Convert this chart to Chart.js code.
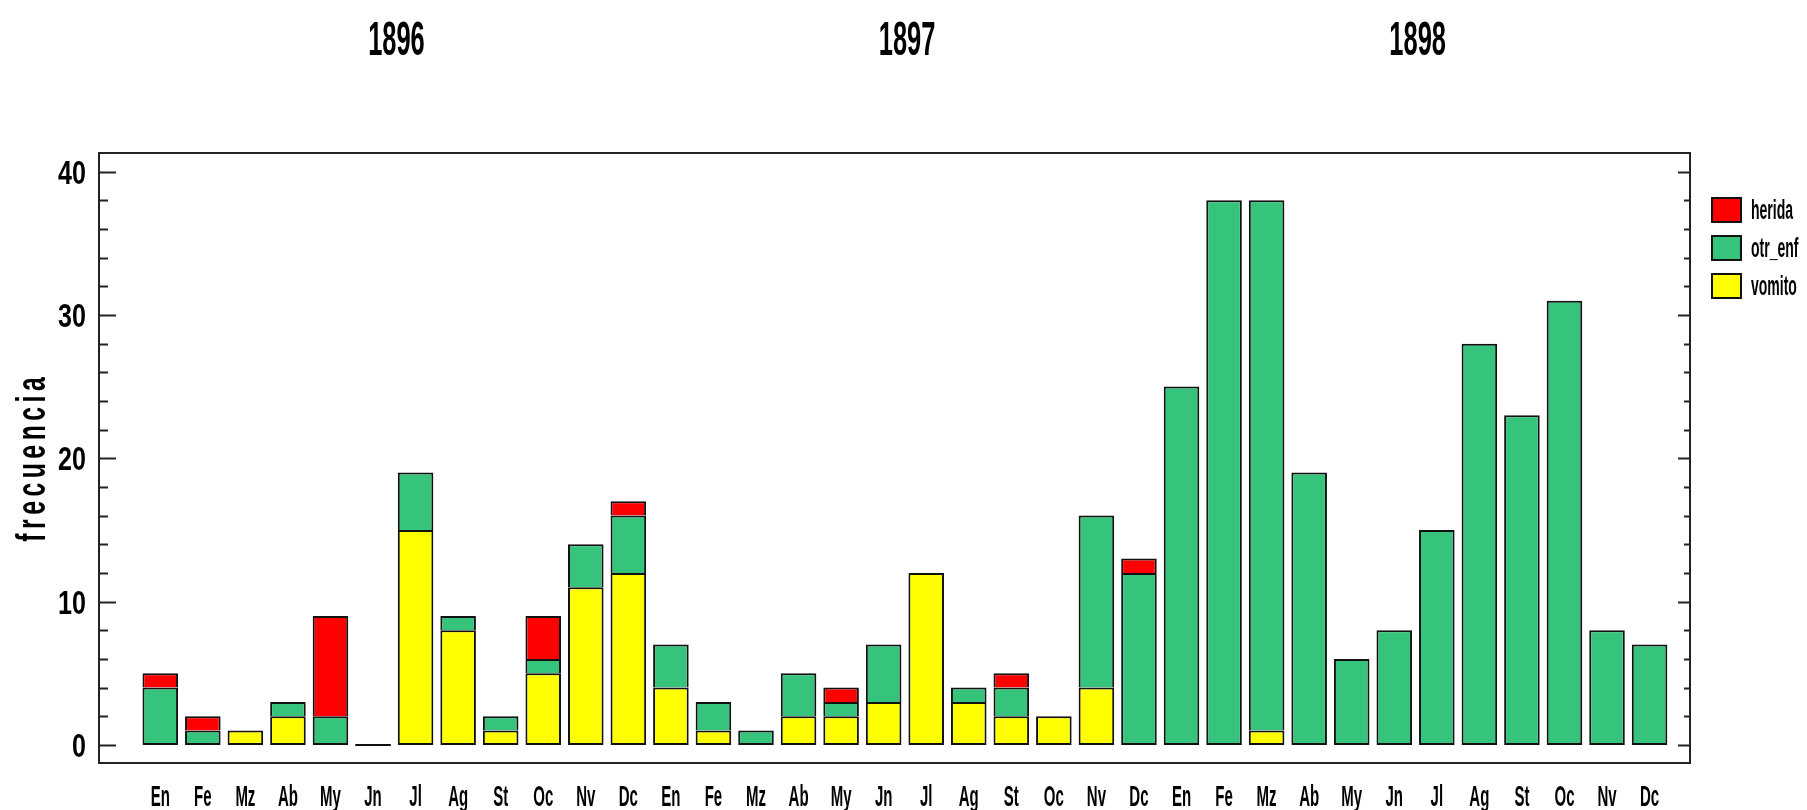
<!DOCTYPE html>
<html>
<head>
<meta charset="utf-8">
<script src="https://cdn.jsdelivr.net/npm/chart.js@4.4.1/dist/chart.umd.min.js"></script>
<style>
    html, body { margin: 0; padding: 0; background: #fff; }
</style>
</head>
<body>
<canvas id="grafico" width="1807" height="810"></canvas>
<script>
// Meses y años (tres años seguidos)
const meses = ['En', 'Fe', 'Mz', 'Ab', 'My', 'Jn', 'Jl', 'Ag', 'St', 'Oc', 'Nv', 'Dc'];
const anios = ['1896', '1897', '1898'];
const etiquetas = anios.flatMap(() => meses);

// Frecuencias por mes
const vomito = [0, 0, 1, 2, 0, 0, 15, 8, 1, 5, 11, 12,
                4, 1, 0, 2, 2, 3, 12, 3, 2, 2, 4, 0,
                0, 0, 1, 0, 0, 0, 0, 0, 0, 0, 0, 0];
const otrEnf = [4, 1, 0, 1, 2, 0, 4, 1, 1, 1, 3, 4,
                3, 2, 1, 3, 1, 4, 0, 1, 2, 0, 12, 12,
                25, 38, 37, 19, 6, 8, 15, 28, 23, 31, 8, 7];
const herida = [1, 1, 0, 0, 7, 0, 0, 0, 0, 3, 0, 1,
                0, 0, 0, 0, 1, 0, 0, 0, 1, 0, 0, 1,
                0, 0, 0, 0, 0, 0, 0, 0, 0, 0, 0, 0];

const yTicks = [0, 10, 20, 30, 40];

const FUENTE = '"Liberation Sans", Arial, sans-serif';

const pila = [vomito, otrEnf, herida];
const puntos = arr => arr.map((v, i) => ({ x: i, y: v }));

// texto estrechado horizontalmente
function textoEstrecho(ctx, txt, x, y, size, sx, align) {
    ctx.save();
    ctx.translate(x, y);
    ctx.scale(sx, 1);
    ctx.font = 'bold ' + size + 'px ' + FUENTE;
    ctx.textAlign = align || 'center';
    ctx.textBaseline = 'alphabetic';
    ctx.fillStyle = '#000';
    ctx.fillText(txt, 0, 0);
    ctx.restore();
}

// borde inferior solo en el primer tramo visible de la pila
function bordeTramo(c) {
    const i = c.dataIndex;
    let debajo = 0;
    for (let k = 0; k < c.datasetIndex; k++) debajo += pila[k][i];
    return { top: 2, left: 2, right: 2, bottom: debajo === 0 ? 2 : 0 };
}

const decorado = {
    id: 'decorado',
    afterDraw(chart) {
        const ctx = chart.ctx;
        const area = chart.chartArea;
        const xs = chart.scales.x;
        const ys = chart.scales.y;

        // meses sin casos: linea en cero
        const meta = chart.getDatasetMeta(0);
        ctx.save();
        ctx.strokeStyle = '#111';
        ctx.lineWidth = 2;
        etiquetas.forEach((m, i) => {
            if (vomito[i] + otrEnf[i] + herida[i] === 0) {
                const bar = meta.data[i];
                const y0 = ys.getPixelForValue(0);
                ctx.beginPath();
                ctx.moveTo(bar.x - bar.width / 2, y0);
                ctx.lineTo(bar.x + bar.width / 2, y0);
                ctx.stroke();
            }
        });
        ctx.restore();

        // marco
        ctx.save();
        ctx.strokeStyle = '#222';
        ctx.lineWidth = 2;
        ctx.strokeRect(area.left, area.top, area.right - area.left, area.bottom - area.top);

        // marcas del eje y (hacia dentro)
        ctx.beginPath();
        for (let v = 0; v <= 40; v += 2) {
            const y = Math.round(ys.getPixelForValue(v)) + 0.5;
            const mayor = v % 10 === 0;
            ctx.moveTo(area.left, y);
            ctx.lineTo(area.left + (mayor ? 17 : 9), y);
            ctx.moveTo(area.right, y);
            ctx.lineTo(area.right - (mayor ? 12 : 6), y);
        }
        ctx.stroke();
        ctx.restore();

        // etiquetas del eje y
        yTicks.forEach(v => {
            textoEstrecho(ctx, String(v), area.left - 13, ys.getPixelForValue(v) + 12, 33, 0.76, 'right');
        });

        // etiquetas de meses
        etiquetas.forEach((m, i) => {
            textoEstrecho(ctx, m, xs.getPixelForValue(i), 806, 30, 0.5);
        });

        // años
        anios.forEach((a, k) => {
            textoEstrecho(ctx, a, xs.getPixelForValue(k * 12 + 5.55), 55, 48, 0.53);
        });

        // titulo eje y, letras espaciadas
        const titulo = 'frecuencia';
        ctx.save();
        ctx.font = 'bold 40px ' + FUENTE;
        ctx.fillStyle = '#000';
        ctx.textBaseline = 'alphabetic';
        ctx.textAlign = 'left';
        const sx = 0.62, hueco = 4.5;
        const anchos = titulo.split('').map(ch => ctx.measureText(ch).width * sx);
        const total = anchos.reduce((a, b) => a + b, 0) + hueco * (titulo.length - 1);
        ctx.translate(45, 459.5);
        ctx.rotate(-Math.PI / 2);
        let pos = -total / 2;
        titulo.split('').forEach((ch, k) => {
            ctx.save();
            ctx.translate(pos, 0);
            ctx.scale(sx, 1);
            ctx.fillText(ch, 0, 0);
            ctx.restore();
            pos += anchos[k] + hueco;
        });
        ctx.restore();

        // leyenda (orden inverso a la pila)
        const series = chart.data.datasets.slice().reverse();
        series.forEach((ds, k) => {
            const top = 198 + k * 38;
            ctx.save();
            ctx.fillStyle = ds.backgroundColor;
            ctx.fillRect(1712, top, 29, 24);
            ctx.strokeStyle = '#111';
            ctx.lineWidth = 2;
            ctx.strokeRect(1712, top, 29, 24);
            ctx.restore();
            textoEstrecho(ctx, ds.label, 1751, top + 21, 28, 0.5, 'left');
        });
    }
};

const estilo = {
    borderColor: '#111',
    borderWidth: bordeTramo,
    borderSkipped: false,
    categoryPercentage: 0.836,
    barPercentage: 1
};

new Chart(document.getElementById('grafico'), {
    type: 'bar',
    data: {
        labels: etiquetas,
        datasets: [
            Object.assign({ label: 'vomito', data: puntos(vomito), backgroundColor: '#ffff00' }, estilo),
            Object.assign({ label: 'otr_enf', data: puntos(otrEnf), backgroundColor: '#36c47d' }, estilo),
            Object.assign({ label: 'herida', data: puntos(herida), backgroundColor: '#ff0000' }, estilo)
        ]
    },
    options: {
        responsive: false,
        animation: false,
        devicePixelRatio: 1,
        layout: { padding: { top: 153, right: 117, bottom: 0, left: 0 } },
        plugins: { legend: { display: false }, tooltip: { enabled: false } },
        scales: {
            x: {
                type: 'linear',
                min: -1.44,
                max: 35.95,
                offset: false,
                stacked: true,
                grid: { display: false, drawTicks: false },
                border: { display: false },
                ticks: { display: false },
                afterFit: s => { s.height = 47; }
            },
            y: {
                stacked: true,
                min: -1.26,
                max: 41.3,
                grid: { display: false, drawTicks: false },
                border: { display: false },
                afterBuildTicks: s => { s.ticks = yTicks.map(v => ({ value: v })); },
                ticks: { display: false },
                afterFit: s => { s.width = 99; }
            }
        }
    },
    plugins: [decorado]
});
</script>
</body>
</html>
